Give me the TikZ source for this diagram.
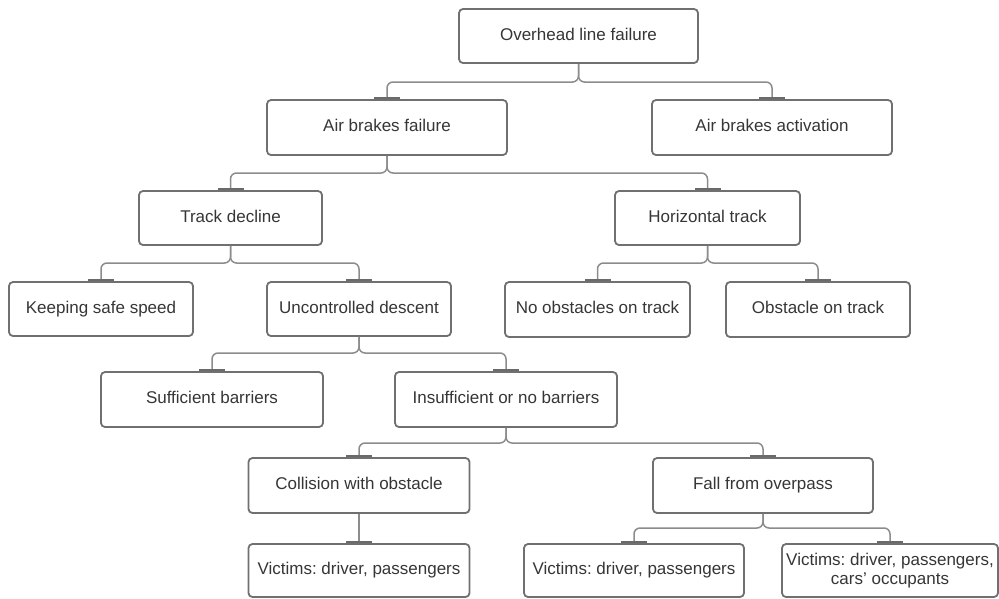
\documentclass[tikz,border=0pt]{standalone}
\usepackage{fontspec}
\setmainfont{Liberation Sans}
\frenchspacing
\usetikzlibrary{arrows.meta}
\definecolor{boxgray}{HTML}{707070}
\definecolor{conngray}{HTML}{8C8C8C}
\definecolor{bargray}{HTML}{6A6A6A}
\definecolor{txt}{HTML}{363636}
\tikzset{
  fbox/.style={draw=boxgray, line width=1.8pt, rounded corners=4pt, fill=white,
    text=txt, align=center, inner sep=0pt, font=\fontsize{17}{19}\selectfont},
  sl/.style={fbox, text height=12.5pt, text depth=4pt},
  conn/.style={draw=conngray, line width=1.5pt, rounded corners=6pt,
    -{Bar[width=26pt,line width=2.4pt,color=bargray]}},
}
\begin{document}
\begin{tikzpicture}[x=1pt,y=-1pt]
\useasboundingbox (0,0) rectangle (999,598);
% level 0
\node[sl, minimum width=239pt, minimum height=54pt] (o) at (578.5,36) {Overhead line failure};
% level 1
\node[sl, minimum width=240pt, minimum height=55pt] (abf) at (387,127.5) {Air brakes failure};
\node[sl, minimum width=240pt, minimum height=55pt] (aba) at (772,127.5) {Air brakes activation};
% level 2
\node[sl, minimum width=183pt, minimum height=54pt] (td) at (230.5,218) {Track decline};
\node[sl, minimum width=185pt, minimum height=54pt] (ht) at (707.5,218) {Horizontal track};
% level 3
\node[sl, minimum width=184pt, minimum height=54pt] (kss) at (101,309) {Keeping safe speed};
\node[sl, minimum width=184pt, minimum height=54pt] (ucd) at (359,309) {Uncontrolled descent};
\node[sl, minimum width=185pt, minimum height=55pt] (noo) at (597.5,309.5) {No obstacles on track};
\node[sl, minimum width=184pt, minimum height=55pt] (oot) at (818,309.5) {Obstacle on track};
% level 4
\node[sl, minimum width=222pt, minimum height=55pt] (sb) at (212,399.5) {Sufficient barriers};
\node[sl, minimum width=222pt, minimum height=55pt] (inb) at (506,399.5) {Insufficient or no barriers};
% level 5
\node[sl, minimum width=221pt, minimum height=55pt] (cwo) at (359,485.5) {Collision with obstacle};
\node[sl, minimum width=220pt, minimum height=55pt] (ffo) at (763,485.5) {Fall from overpass};
% level 6
\node[sl, minimum width=221pt, minimum height=53pt] (v1) at (359,570.5) {Victims: driver, passengers};
\node[sl, minimum width=220pt, minimum height=53pt] (v2) at (634,570.5) {Victims: driver, passengers};
\node[fbox, minimum width=216pt, minimum height=53pt] (v3) at (890,570.5) {Victims: driver, passengers,\\cars' occupants};
% connectors
\draw[conn] (o.south) -- (o.south |- 0,82) -- (abf.north |- 0,82) -- (abf.north);
\draw[conn] (o.south) -- (o.south |- 0,82) -- (aba.north |- 0,82) -- (aba.north);
\draw[conn] (abf.south) -- (abf.south |- 0,173) -- (td.north |- 0,173) -- (td.north);
\draw[conn] (abf.south) -- (abf.south |- 0,173) -- (ht.north |- 0,173) -- (ht.north);
\draw[conn] (td.south) -- (td.south |- 0,263) -- (kss.north |- 0,263) -- (kss.north);
\draw[conn] (td.south) -- (td.south |- 0,263) -- (ucd.north |- 0,263) -- (ucd.north);
\draw[conn] (ht.south) -- (ht.south |- 0,263) -- (noo.north |- 0,263) -- (noo.north);
\draw[conn] (ht.south) -- (ht.south |- 0,263) -- (oot.north |- 0,263) -- (oot.north);
\draw[conn] (ucd.south) -- (ucd.south |- 0,353) -- (sb.north |- 0,353) -- (sb.north);
\draw[conn] (ucd.south) -- (ucd.south |- 0,353) -- (inb.north |- 0,353) -- (inb.north);
\draw[conn] (inb.south) -- (inb.south |- 0,443) -- (cwo.north |- 0,443) -- (cwo.north);
\draw[conn] (inb.south) -- (inb.south |- 0,443) -- (ffo.north |- 0,443) -- (ffo.north);
\draw[conn] (cwo.south) -- (v1.north);
\draw[conn] (ffo.south) -- (ffo.south |- 0,528) -- (v2.north |- 0,528) -- (v2.north);
\draw[conn] (ffo.south) -- (ffo.south |- 0,528) -- (v3.north |- 0,528) -- (v3.north);
\end{tikzpicture}
\end{document}
